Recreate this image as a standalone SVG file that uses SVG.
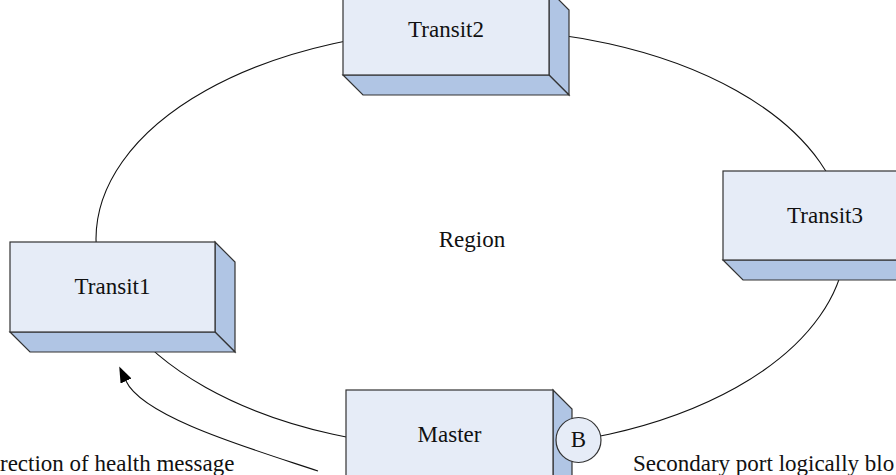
<svg xmlns="http://www.w3.org/2000/svg" width="896" height="475" viewBox="0 0 896 475">
  <style>
    .front { fill: #E6ECF7; stroke: #333333; stroke-width: 1.2; }
    .side { fill: #B0C5E4; stroke: #333333; stroke-width: 1.2; stroke-linejoin: miter; }
    .ring { fill: none; stroke: #111111; stroke-width: 1.1; }
    .flow { fill: none; stroke: #111111; stroke-width: 1.1; }
    .lbl { font-family: "Liberation Serif", "Times New Roman", serif; font-size: 23px; fill: #111111; }
    .mid { text-anchor: middle; }
  </style>
  <defs>
    <marker id="arrowhead" viewBox="0 0 16 12" refX="0" refY="6" markerUnits="userSpaceOnUse" markerWidth="16" markerHeight="12" orient="auto">
      <path d="M0,0 L16,6 L0,12 z" fill="#000000"/>
    </marker>
  </defs>

  <rect width="896" height="475" fill="#ffffff"/>

  <!-- connectors: the ring joining all nodes and the health message arrow -->
  <g id="connectors">
    <ellipse class="ring" cx="471" cy="239" rx="375" ry="210"/>
    <path class="flow" d="M318,471 C251.6,448.9 142.9,417.3 126,381" marker-end="url(#arrowhead)"/>
  </g>

  <text class="lbl mid" x="472" y="247">Region</text>

  <g id="transit2">
    <polygon class="side" points="549,-10 569,10 569,95 549,75"/>
    <polygon class="side" points="343,75 549,75 569,95 363,95"/>
    <rect class="front" x="343" y="-10" width="206" height="85"/>
    <text class="lbl mid" x="446" y="37">Transit2</text>
  </g>

  <g id="transit1">
    <polygon class="side" points="215,242 235,262 235,352 215,332"/>
    <polygon class="side" points="10,332 215,332 235,352 30,352"/>
    <rect class="front" x="10" y="242" width="205" height="90"/>
    <text class="lbl mid" x="112.5" y="293.5">Transit1</text>
  </g>

  <g id="transit3">
    <polygon class="side" points="927,171 947,191 947,280 927,260"/>
    <polygon class="side" points="723,260 927,260 947,280 743,280"/>
    <rect class="front" x="723" y="171" width="204" height="89"/>
    <text class="lbl mid" x="825" y="223">Transit3</text>
  </g>

  <g id="master">
    <polygon class="side" points="553,390 572,409 572,490 553,490"/>
    <rect class="front" x="346" y="390" width="207" height="100"/>
    <text class="lbl mid" x="449.5" y="442">Master</text>
  </g>

  <g id="port-b">
    <circle class="front" cx="578.5" cy="440" r="22.5"/>
    <text class="lbl mid" x="578.5" y="446.5">B</text>
  </g>

  <text class="lbl" x="0" y="471">rection of health message</text>
  <text class="lbl" x="633" y="471">Secondary port logically blo</text>
</svg>
